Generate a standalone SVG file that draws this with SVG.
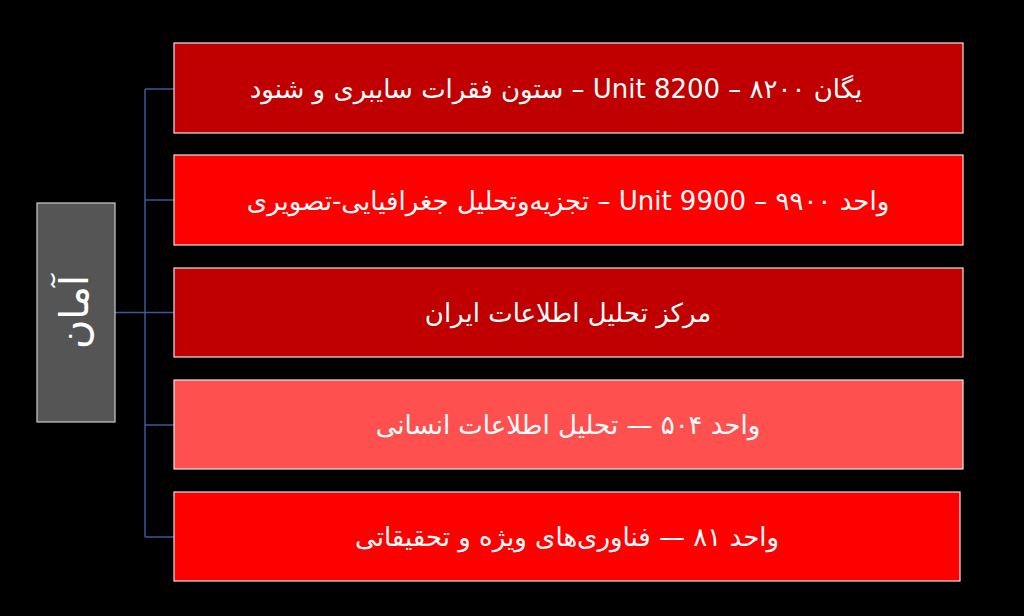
<svg xmlns="http://www.w3.org/2000/svg" width="1024" height="616" viewBox="0 0 1024 616">
<style>
.box{stroke:#e6e6e6;stroke-width:1.2}
.t{fill:#fff;font-family:"DejaVu Sans","Noto Sans",sans-serif;font-size:26px;text-anchor:middle;direction:rtl;unicode-bidi:embed}
.c{stroke:#3b5a98;stroke-width:1.5;fill:none}
</style>
<rect width="1024" height="616" fill="#000"/>
<g id="connectors">
<path class="c" d="M115 312.5H145M145 89V537M145 89H174M145 200H174M145 312.5H174M145 425H174M145 537H174"/>
</g>
<g id="root">
<rect x="37" y="203" width="78" height="219" fill="#555555" stroke="#cccccc" stroke-width="1.2"/>
<text class="t" transform="translate(88 312) rotate(-90)" style="font-size:40px">آمان</text>
</g>
<g id="n1">
<rect class="box" x="174" y="43" width="789" height="90" fill="#c00000"/>
<text class="t" x="556" y="98">یگان ۸۲۰۰  – Unit 8200 – ستون فقرات سایبری و شنود</text>
</g>
<g id="n2">
<rect class="box" x="174" y="155" width="789" height="90" fill="#ff0000"/>
<text class="t" x="568" y="210">واحد ۹۹۰۰ – Unit 9900 – تجزیه‌وتحلیل جغرافیایی-تصویری</text>
</g>
<g id="n3">
<rect class="box" x="174" y="268" width="789" height="89" fill="#c00000"/>
<text class="t" x="568" y="322">مرکز تحلیل اطلاعات ایران</text>
</g>
<g id="n4">
<rect class="box" x="174" y="380" width="789" height="89" fill="#ff5050"/>
<text class="t" x="568" y="434">واحد ۵۰۴ — تحلیل اطلاعات انسانی</text>
</g>
<g id="n5">
<rect class="box" x="174" y="492" width="786" height="89" fill="#ff0000"/>
<text class="t" x="567" y="546">واحد ۸۱ — فناوری‌های ویژه و تحقیقاتی</text>
</g>
</svg>
